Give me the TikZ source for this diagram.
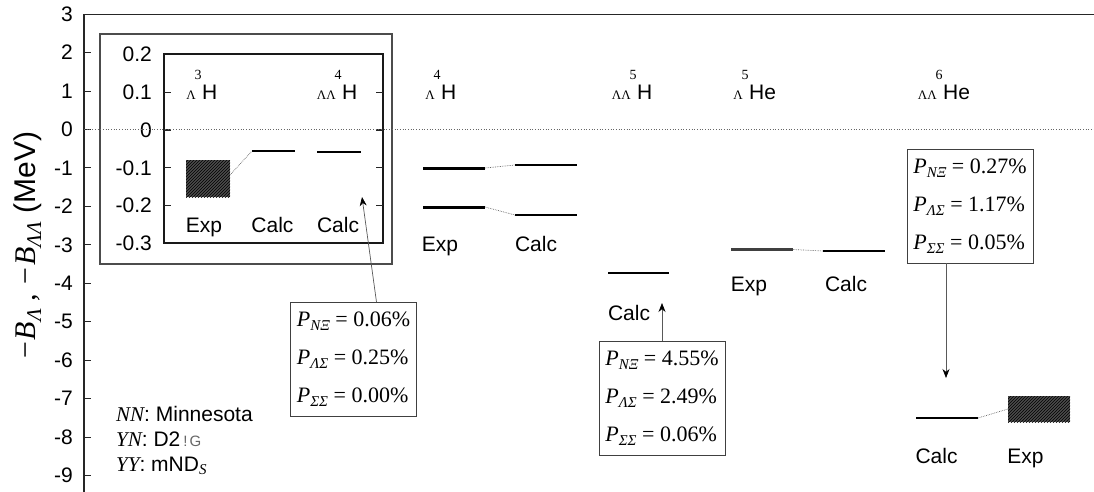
\documentclass[tikz,border=0pt]{standalone}
\usepackage{fontspec}
\setmainfont{Liberation Sans}
\newfontfamily\tms{Liberation Serif}
\usetikzlibrary{arrows.meta,patterns}
\newcommand\fs[1]{\fontsize{#1}{#1}\selectfont}
\newcommand\nuc[5]{%
  \node[lab, anchor=base west] (#1) at (#2,100) {#5};
  \node[font=\tms\fs{13}, inner sep=0pt, anchor=base east] (#1sub) at ([xshift=-6pt]#1.base west) {#3};
  \node[font=\tms\fs{14}, inner sep=0pt, anchor=base] (#1sup) at ([xshift=-4pt,yshift=20pt]#1.base west) {#4};
}
\newcommand\prow[2]{\textit{P}\raisebox{-4pt}{\fs{15}\itshape #1} = #2\%}
\begin{document}
\begin{tikzpicture}[x=1pt,y=-1pt,
  lab/.style={font=\fs{21}, inner sep=0pt},
  ticklab/.style={font=\fs{21}, inner sep=0pt, anchor=east},
  axis/.style={line width=1.4pt, black!85},
  tickmark/.style={line width=1pt, black!85},
  frame/.style={line width=1.2pt, black!70},
  zeroline/.style={dotted, line width=0.7pt, black!60},
  level/.style={line width=1.8pt, black},
  explevel/.style={line width=3pt, black},
  conn/.style={densely dotted, line width=0.7pt, black!60},
  arr/.style={line width=0.7pt, black!65, -{Stealth[length=9pt,width=7pt,black]}},
  pbox/.style={draw=black!75, line width=0.9pt, fill=white, minimum width=126pt, minimum height=114pt, inner sep=0pt, align=left, font=\tms\fontsize{22}{38}\selectfont},
  hatch/.style={fill=black!70, postaction={pattern=north east lines, pattern color=black}},
]
\useasboundingbox (0,0) rectangle (1094,492);
% main axes
\draw[axis] (84,492) -- (84,14.5) -- (1094,14.5);
\foreach \v in {3,2,...,-9}{
  \pgfmathsetmacro\yy{129.5-38.45*\v}
  \draw[tickmark] (84,\yy) -- (91,\yy);
  \node[ticklab] (yt\v) at (73,\yy) {\v};
}
\node[rotate=90, font=\fs{30}, inner sep=0pt] (ylab) at (28,246)
  {{\tms\itshape −B\textsubscript{Λ} , −B\textsubscript{ΛΛ}} (MeV)};
% inset
\draw[frame] (100,34) rectangle (392,264);
\draw[frame, black!90] (164,54) rectangle (383,243);
\foreach \k/\t in {2/0.2,1/0.1,0/0,-1/-0.1,-2/-0.2,-3/-0.3}{
  \pgfmathsetmacro\yy{130-37.8*\k}
  \node[ticklab] (it\k) at (152,\yy) {\t};
}
\foreach \k in {1,0,-1,-2}{
  \pgfmathsetmacro\yy{130-37.8*\k}
  \draw[tickmark] (164,\yy) -- (171,\yy);
  \draw[tickmark] (376,\yy) -- (383,\yy);
}
\draw[zeroline] (84,129.5) -- (1094,129.5);
% inset levels
\fill[hatch] (186,160) rectangle (230,197);
\coordinate (e3a) at (230,175);
\coordinate (c3l) at (252,151); \coordinate (c3r) at (295,151);
\coordinate (c4l) at (317,152); \coordinate (c4r) at (361,152);
\draw[level] (c3l) -- (c3r);
\draw[level] (c4l) -- (c4r);
\draw[conn] (e3a) -- (c3l);
\node[lab, anchor=base] (le3) at (204,232) {Exp};
\node[lab, anchor=base] (lc3) at (272.5,232) {Calc};
\node[lab, anchor=base] (lc4) at (338,232) {Calc};
\nuc{n3}{202}{Λ}{3}{H}
\nuc{n4}{342}{ΛΛ}{4}{H}
% Lambda 4H
\nuc{n5}{441}{Λ}{4}{H}
\coordinate (e4ar) at (485,168); \coordinate (e4br) at (485,207);
\coordinate (c4al) at (515,165); \coordinate (c4bl) at (515,215);
\draw[explevel] (423,168) -- (e4ar);
\draw[explevel] (423,207) -- (e4br);
\draw[level] (c4al) -- (577,165);
\draw[level] (c4bl) -- (577,215);
\draw[conn] (e4ar) -- (c4al);
\draw[conn] (e4br) -- (c4bl);
\node[lab, anchor=base] (le5) at (440,251) {Exp};
\node[lab, anchor=base] (lc5) at (536,251) {Calc};
% LL 5H
\nuc{n6}{637}{ΛΛ}{5}{H}
\draw[level] (608,273) -- (669,273);
\node[lab, anchor=base] (lc6) at (629,320) {Calc};
% L 5He
\nuc{n7}{749}{Λ}{5}{He}
\coordinate (e7r) at (793,249.5); \coordinate (c7l) at (823,251);
\draw[line width=2.2pt, black!75] (731,249.5) -- (e7r);
\draw[level] (c7l) -- (885,251);
\draw[conn] (e7r) -- (c7l);
\node[lab, anchor=base] (le7) at (749,291) {Exp};
\node[lab, anchor=base] (lc7) at (846,291) {Calc};
% LL 6He
\nuc{n8}{943}{ΛΛ}{6}{He}
\coordinate (c8r) at (978,418); \coordinate (e8l) at (1008,409);
\draw[level] (916,418) -- (c8r);
\fill[hatch] (1008,396) rectangle (1070,422);
\draw[conn] (c8r) -- (e8l);
\node[lab, anchor=base] (lc8) at (936.5,463) {Calc};
\node[lab, anchor=base] (le8) at (1025.5,463) {Exp};
% boxes
\node[pbox] (b1) at (353.5,359.5) {\prow{NΞ}{0.06}\\\prow{ΛΣ}{0.25}\\\prow{ΣΣ}{0.00}};
\node[pbox] (b2) at (662,398) {\prow{NΞ}{4.55}\\\prow{ΛΣ}{2.49}\\\prow{ΣΣ}{0.06}};
\node[pbox] (b3) at (970,206) {\prow{NΞ}{0.27}\\\prow{ΛΣ}{1.17}\\\prow{ΣΣ}{0.05}};
\coordinate (a1) at (362,197);
\coordinate (a2) at (662,303);
\coordinate (a3) at (946,378);
\draw[arr] ([xshift=23pt]b1.north) -- (a1);
\draw[arr] (b2.north) -- (a2);
\draw[arr] ([xshift=-24pt]b3.south) -- (a3);
% legend
\node[lab, anchor=base west] (leg1) at (116,421) {{\tms\itshape NN}: Minnesota};
\node[lab, anchor=base west] (leg2) at (116,446) {{\tms\itshape YN}: D2\hspace{3pt}{\fs{15}\color{black!60}!\hspace{2pt}G}};
\node[lab, anchor=base west] (leg3) at (116,471) {{\tms\itshape YY}: mND\raisebox{-3pt}{\tms\itshape\fs{15}S}};
\end{tikzpicture}
\end{document}
